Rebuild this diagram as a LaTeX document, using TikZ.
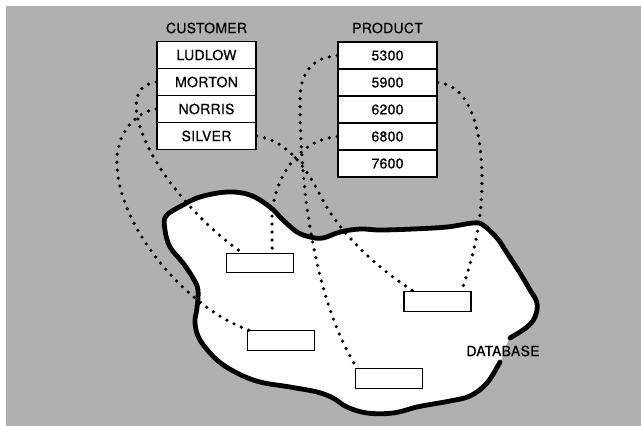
\documentclass[tikz,border=0pt]{standalone}
\usepackage{fontspec}
\setmainfont{TeX Gyre Heros}
\newfontfamily\medfont{TeX Gyre Heros}[FakeBold=0.6, LetterSpace=2]
\usetikzlibrary{calc}
\definecolor{bggray}{RGB}{176,176,176}
\tikzset{
  cell/.style={draw, line width=1.6pt, fill=white, minimum width=99pt, minimum height=27pt, inner sep=0pt, font=\medfont\fontsize{14}{16}\selectfont},
  slot/.style={draw, line width=1.3pt, fill=white, minimum width=67pt, minimum height=19.5pt, inner sep=0pt},
  link/.style={line width=3.6pt, line cap=round, dash pattern=on 0pt off 8pt},
  lbl/.style={font=\medfont\fontsize{14}{16}\selectfont, inner sep=0pt}
}
\begin{document}
\begin{tikzpicture}[x=1pt,y=-1pt]
\useasboundingbox (0,0) rectangle (641,426);
\fill[bggray] (6,6) rectangle (641,426);
% database blob
\fill[white] plot[smooth cycle, tension=0.6] coordinates {
 (500,362) (487,383) (470,396) (450,401) (433,404) (417,407) (393,413) (367,413) (347,407) (333,398) (317,392) (290,387) (260,382) (237,373) (217,360) (200,340) (195,323) (197,308) (198,290) (193,278) (183,263) (170,247) (165,230) (166,216) (183,205) (200,197) (227,192) (250,195) (270,207) (283,220) (297,232) (310,237) (323,238) (340,232) (360,229) (380,230) (413,229) (447,227) (473,223) (483,225) (497,238) (507,253) (520,273) (530,290) (537,303) (535,317) (527,327) (510,338)};
\draw[line width=4.8pt, line join=round, line cap=round] plot[smooth, tension=0.6] coordinates {
 (500,362) (487,383) (470,396) (450,401) (433,404) (417,407) (393,413) (367,413) (347,407) (333,398) (317,392) (290,387) (260,382) (237,373) (217,360) (200,340) (195,323) (197,308) (198,290) (193,278) (183,263) (170,247) (165,230) (166,216) (183,205) (200,197) (227,192) (250,195) (270,207) (283,220) (297,232) (310,237) (323,238) (340,232) (360,229) (380,230) (413,229) (447,227) (473,223) (483,225) (497,238) (507,253) (520,273) (530,290) (537,303) (535,317) (527,327) (510,338)};
% tables
\node[lbl] (custlbl) at (206.5,28) {CUSTOMER};
\node[cell] (ludlow) at (206.5,55) {LUDLOW};
\node[cell] (morton) at (206.5,82) {MORTON};
\node[cell] (norris) at (206.5,109) {NORRIS};
\node[cell] (silver) at (206.5,136) {SILVER};
\node[lbl] (prodlbl) at (387.5,28) {PRODUCT};
\node[cell] (p5300) at (387.5,55.5) {5300};
\node[cell] (p5900) at (387.5,82.5) {5900};
\node[cell] (p6200) at (387.5,109.5) {6200};
\node[cell] (p6800) at (387.5,136.5) {6800};
\node[cell] (p7600) at (387.5,163.5) {7600};
% record slots
\node[slot] (sa) at (260,263) {};
\node[slot] (sb) at (281,340.5) {};
\node[slot] (sc) at (437.5,301.5) {};
\node[slot] (sd) at (389,378.5) {};
% links
\draw[link] (morton.west) .. controls (140,84) and (134,95) .. (137,115) .. controls (145,160) and (195,220) .. ($(sa.north west)+(16,0)$);
\draw[link] (norris.west) .. controls (135,112) and (115,135) .. (117,165) .. controls (119,230) and (190,310) .. ($(sb.north west)+(2,0)$);
\draw[link] (silver.east) .. controls (285,140) and (305,165) .. (320,195) .. controls (340,235) and (380,270) .. ($(sc.north west)+(10,0)$);
\draw[link] (p6800.west) .. controls (300,140) and (275,175) .. (272,215) -- ($(sa.north east)+(-22,0)$);
\draw[link] (p5300.west) .. controls (310,58) and (300,75) .. (300,100) .. controls (300,180) and (312,295) .. ($(sd.north west)+(2,0)$);
\draw[link] (p5900.east) .. controls (470,85) and (482,130) .. (482,180) .. controls (482,230) and (470,265) .. ($(sc.north east)+(-10,0)$);
\node[lbl] (dblbl) at (503,351) {DATABASE};
\end{tikzpicture}
\end{document}
